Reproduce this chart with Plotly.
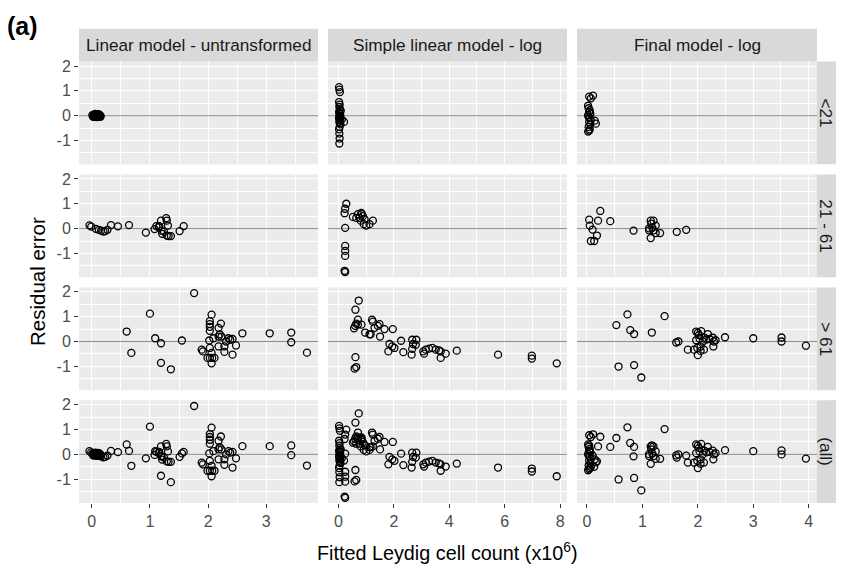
import plotly.graph_objects as go

# ---------------- data ----------------
models = ["Linear model - untransformed", "Simple linear model - log", "Final model - log"]
groups = ["<21", "21 - 61", "> 61", "(all)"]

# Linear model - untransformed
lin_g1_x = [0.01, 0.02, 0.03, 0.04, 0.05, 0.06, 0.07, 0.08, 0.09, 0.10, 0.11, 0.12, 0.13, 0.14, 0.15, 0.03, 0.06, 0.09, 0.12, 0.15]
lin_g1_y = [0.02, -0.03, 0.04, -0.02, 0.05, 0.00, -0.04, 0.03, -0.05, 0.06, 0.01, -0.03, 0.04, -0.02, 0.00, -0.05, 0.07, -0.06, 0.05, -0.04]
lin_g2_x = [-0.04, -0.01, 0.07, 0.12, 0.16, 0.20, 0.23, 0.27, 0.33, 0.45, 0.64, 0.93, 1.08, 1.11, 1.15, 1.16, 1.19, 1.20, 1.21, 1.24, 1.28, 1.29, 1.31, 1.29, 1.32, 1.36, 1.51, 1.58]
lin_g2_y = [0.13, 0.08, -0.01, -0.05, -0.08, -0.12, -0.10, -0.05, 0.14, 0.09, 0.14, -0.16, -0.02, 0.10, 0.05, 0.10, 0.32, -0.08, -0.21, -0.12, 0.42, 0.32, 0.12, -0.28, -0.30, -0.30, -0.10, 0.10]
lin_g3_x = [0.60, 0.68, 1.00, 1.09, 1.19, 1.19, 1.36, 1.55, 1.76, 1.89, 1.91, 2.02, 2.03, 1.99, 2.03, 2.07, 2.11, 2.06, 2.06, 2.06, 2.03, 2.03, 2.03, 2.03, 2.22, 2.18, 2.09, 2.18, 2.20, 2.23, 2.18, 2.28, 2.28, 2.31, 2.35, 2.38, 2.42, 2.48, 2.42, 2.59, 3.06, 3.43, 3.43, 3.70]
lin_g3_y = [0.40, -0.46, 1.12, 0.13, -0.07, -0.86, -1.12, 0.04, 1.95, -0.33, -0.40, 0.04, -0.26, -0.66, -0.66, -0.66, -0.66, -0.88, -0.46, 1.08, 0.82, 0.70, 0.59, 0.43, 0.72, 0.55, 0.13, 0.20, 0.29, 0.20, -0.20, -0.20, -0.42, 0.00, 0.13, 0.07, 0.10, -0.16, -0.53, 0.33, 0.33, 0.36, -0.03, -0.45]

# Simple linear model - log
sim_g1_x = [0.02, 0.03, 0.05, 0.02, 0.04, 0.03, 0.05, 0.02, 0.04, 0.06, 0.03, 0.05, 0.02, 0.04, 0.06, 0.03, 0.05, 0.07, 0.04, 0.02, 0.03, 0.04, 0.03, 0.20, 0.12, 0.08]
sim_g1_y = [1.15, 1.05, 0.95, 0.55, 0.45, 0.35, 0.25, 0.15, 0.10, 0.05, 0.00, -0.05, -0.10, -0.15, -0.20, -0.25, -0.30, -0.35, -0.45, -0.55, -0.72, -0.92, -1.12, -0.25, -0.15, 0.20]
sim_g2_x = [0.24, 0.28, 0.24, 0.22, 0.52, 0.70, 0.76, 0.82, 0.88, 0.80, 0.91, 1.00, 1.12, 1.24, 0.94, 0.84, 0.64, 0.24, 0.24, 0.24, 0.22, 0.24]
sim_g2_y = [0.03, 1.00, 0.80, 0.62, 0.47, 0.58, 0.43, 0.63, 0.50, 0.32, 0.18, 0.12, 0.18, 0.32, 0.38, 0.58, 0.43, -0.70, -0.90, -1.10, -1.70, -1.75]
sim_g3_x = [0.73, 0.61, 0.70, 0.56, 0.60, 0.64, 0.83, 0.70, 0.96, 1.12, 1.16, 1.21, 1.24, 1.30, 1.42, 1.48, 1.50, 1.66, 1.96, 1.84, 1.94, 2.02, 1.80, 2.26, 2.34, 2.64, 2.66, 2.81, 2.69, 2.79, 2.66, 3.06, 3.09, 3.15, 3.27, 3.39, 3.51, 3.63, 3.69, 3.69, 3.87, 4.27, 5.76, 6.98, 6.98, 7.88, 0.61, 0.64, 0.58]
sim_g3_y = [1.65, 1.28, 0.88, 0.53, 0.63, 0.72, 0.68, 0.68, 0.36, 0.29, 0.29, 0.88, 0.80, 0.55, 0.63, 0.70, 0.20, 0.50, 0.50, -0.10, -0.20, -0.26, -0.40, 0.03, -0.43, -0.53, 0.07, 0.07, -0.10, -0.13, -0.30, -0.40, -0.49, -0.33, -0.29, -0.26, -0.33, -0.36, -0.40, -0.66, -0.49, -0.37, -0.53, -0.57, -0.69, -0.88, -0.63, -1.03, -1.09]

# Final model - log
fin_g1_x = [0.04, 0.11, 0.07, 0.02, 0.03, 0.05, 0.04, 0.06, 0.02, 0.03, 0.05, 0.07, 0.04, 0.06, 0.03, 0.05, 0.16, 0.14, 0.02, 0.04]
fin_g1_y = [0.77, 0.81, 0.70, 0.40, 0.30, 0.22, 0.15, 0.08, 0.02, -0.05, -0.10, -0.18, -0.25, -0.35, -0.45, -0.55, -0.32, -0.20, -0.64, -0.60]
fin_g2_x = [0.04, 0.05, 0.10, 0.18, 0.07, 0.13, 0.20, 0.24, 0.42, 0.84, 1.12, 1.15, 1.20, 1.16, 1.24, 1.12, 1.20, 1.15, 1.24, 1.32, 1.18, 1.62, 1.79]
fin_g2_y = [0.36, 0.12, -0.04, -0.28, -0.50, -0.50, 0.32, 0.71, 0.30, -0.08, 0.01, 0.32, 0.32, 0.20, 0.12, -0.07, -0.07, -0.38, -0.18, -0.18, 0.03, -0.13, -0.05]
fin_g3_x = [0.53, 0.73, 0.78, 0.85, 0.57, 0.85, 0.98, 1.17, 1.40, 1.61, 1.65, 1.82, 1.93, 1.97, 2.00, 2.06, 2.02, 1.97, 2.03, 2.09, 2.12, 2.15, 1.99, 2.05, 2.11, 2.05, 2.00, 2.18, 2.21, 2.27, 2.29, 2.28, 2.32, 2.49, 3.00, 3.51, 3.51, 3.95]
fin_g3_y = [0.66, 1.09, 0.46, 0.30, -1.01, -0.95, -1.45, 0.36, 1.02, -0.04, 0.00, -0.33, -0.33, 0.40, 0.35, 0.42, 0.26, 0.05, 0.12, 0.00, 0.15, 0.08, -0.26, -0.20, -0.33, -0.38, -0.55, 0.30, 0.10, 0.15, 0.00, -0.20, 0.05, 0.17, 0.13, 0.16, 0.00, -0.17]

x_ticks = [[0, 1, 2, 3], [0, 2, 4, 6, 8], [0, 1, 2, 3, 4]]
x_minor = [[0.5, 1.5, 2.5, 3.5], [1, 3, 5, 7], [0.5, 1.5, 2.5, 3.5]]
x_ranges = [[-0.22, 3.89], [-0.38, 8.25], [-0.18, 4.15]]
y_ticks = [-1, 0, 1, 2]
y_ticklabels = ["-1", "0", "1", "2"]
y_minor = [-1.5, -0.5, 0.5, 1.5]
y_range = [-1.96, 2.18]
ref_level = 0  # horizontal reference line at zero residual

panel_data = [
    [(lin_g1_x, lin_g1_y), (sim_g1_x, sim_g1_y), (fin_g1_x, fin_g1_y)],
    [(lin_g2_x, lin_g2_y), (sim_g2_x, sim_g2_y), (fin_g2_x, fin_g2_y)],
    [(lin_g3_x, lin_g3_y), (sim_g3_x, sim_g3_y), (fin_g3_x, fin_g3_y)],
    [(lin_g1_x + lin_g2_x + lin_g3_x, lin_g1_y + lin_g2_y + lin_g3_y),
     (sim_g1_x + sim_g2_x + sim_g3_x, sim_g1_y + sim_g2_y + sim_g3_y),
     (fin_g1_x + fin_g2_x + fin_g3_x, fin_g1_y + fin_g2_y + fin_g3_y)],
]

# ---------------- layout geometry (pixels) ----------------
W, H = 843, 564
col_px = [(79, 318), (328, 567), (577, 817)]
row_top = [58, 171.7, 285.4, 399.1]
row_h = 103.5
strip_top = 25
strip_right = (817, 836)

def px_x(p):
    return p / W

def px_y(p):
    return 1 - p / H

FONT = "Liberation Sans, Arial, sans-serif"
TICK_COL = "#4D4D4D"
TXT_COL = "#1A1A1A"

fig = go.Figure()
layout = {}
shapes = []
annotations = []

for r in range(4):
    for c in range(3):
        k = r * 3 + c + 1
        sfx = "" if k == 1 else str(k)
        xs, ys = panel_data[r][c]
        # zero reference line (geom_hline)
        fig.add_trace(go.Scatter(
            x=x_ranges[c], y=[ref_level, ref_level], mode="lines",
            line=dict(color="#8C8C8C", width=1), xaxis=f"x{sfx}", yaxis=f"y{sfx}",
            showlegend=False, hoverinfo="skip"))
        fig.add_trace(go.Scatter(
            x=xs, y=ys, mode="markers",
            marker=dict(symbol="circle-open", size=7, color="black", line=dict(width=1.3, color="black")),
            xaxis=f"x{sfx}", yaxis=f"y{sfx}", showlegend=False, hoverinfo="x+y"))
        x0, x1 = col_px[c]
        t = row_top[r]
        b = t + row_h
        layout[f"xaxis{sfx}"] = dict(
            domain=[px_x(x0), px_x(x1)], anchor=f"y{sfx}", range=x_ranges[c],
            tickvals=x_ticks[c], showticklabels=(r == 3),
            ticks="outside" if r == 3 else "", ticklen=4, tickwidth=1, tickcolor="#333333",
            tickfont=dict(family=FONT, size=16, color=TICK_COL),
            showgrid=True, gridcolor="white", gridwidth=1.3, zeroline=False, showline=False,
            minor=dict(tickvals=x_minor[c], showgrid=True, gridcolor="white", gridwidth=0.6, ticks=""),
            fixedrange=True)
        layout[f"yaxis{sfx}"] = dict(
            domain=[px_y(b), px_y(t)], anchor=f"x{sfx}", range=y_range,
            tickvals=y_ticks, ticktext=y_ticklabels, showticklabels=(c == 0),
            ticks="outside" if c == 0 else "", ticklen=4, tickwidth=1, tickcolor="#333333",
            tickfont=dict(family=FONT, size=16, color=TICK_COL),
            showgrid=True, gridcolor="white", gridwidth=1.3, zeroline=False, showline=False,
            minor=dict(tickvals=y_minor, showgrid=True, gridcolor="white", gridwidth=0.6, ticks=""),
            fixedrange=True)

# top strips
for c in range(3):
    x0, x1 = col_px[c]
    shapes.append(dict(type="rect", xref="paper", yref="paper",
                       x0=px_x(x0), x1=px_x(x1), y0=px_y(row_top[0]), y1=px_y(strip_top),
                       fillcolor="#D9D9D9", line=dict(width=0)))
    annotations.append(dict(text=models[c], xref="paper", yref="paper",
                            x=px_x((x0 + x1) / 2), y=px_y((strip_top + row_top[0]) / 2),
                            showarrow=False, xanchor="center", yanchor="middle",
                            font=dict(family=FONT, size=17.2, color=TXT_COL)))

# right strips
for r in range(4):
    t = row_top[r]
    b = t + row_h
    shapes.append(dict(type="rect", xref="paper", yref="paper",
                       x0=px_x(strip_right[0]), x1=px_x(strip_right[1]), y0=px_y(b), y1=px_y(t),
                       fillcolor="#D9D9D9", line=dict(width=0)))
    annotations.append(dict(text=groups[r], xref="paper", yref="paper",
                            x=px_x((strip_right[0] + strip_right[1]) / 2), y=px_y((t + b) / 2),
                            showarrow=False, xanchor="center", yanchor="middle", textangle=90,
                            font=dict(family=FONT, size=17.2, color=TXT_COL)))

# axis titles
annotations.append(dict(text="Fitted Leydig cell count (x10<sup>6</sup>)", xref="paper", yref="paper",
                        x=px_x(448), y=px_y(551), showarrow=False, xanchor="center", yanchor="middle",
                        font=dict(family=FONT, size=19.8, color="black")))
annotations.append(dict(text="Residual error", xref="paper", yref="paper",
                        x=px_x(37), y=px_y(280), showarrow=False, xanchor="center", yanchor="middle",
                        textangle=-90, font=dict(family=FONT, size=20.5, color="black")))
annotations.append(dict(text="<b>(a)</b>", xref="paper", yref="paper",
                        x=px_x(5), y=px_y(22), showarrow=False, xanchor="left", yanchor="middle",
                        font=dict(family=FONT, size=25, color="black")))

fig.update_layout(
    width=W, height=H, margin=dict(l=0, r=0, t=0, b=0),
    paper_bgcolor="white", plot_bgcolor="#EBEBEB",
    shapes=shapes, annotations=annotations, showlegend=False,
    **layout)

fig.write_html("out.html")
